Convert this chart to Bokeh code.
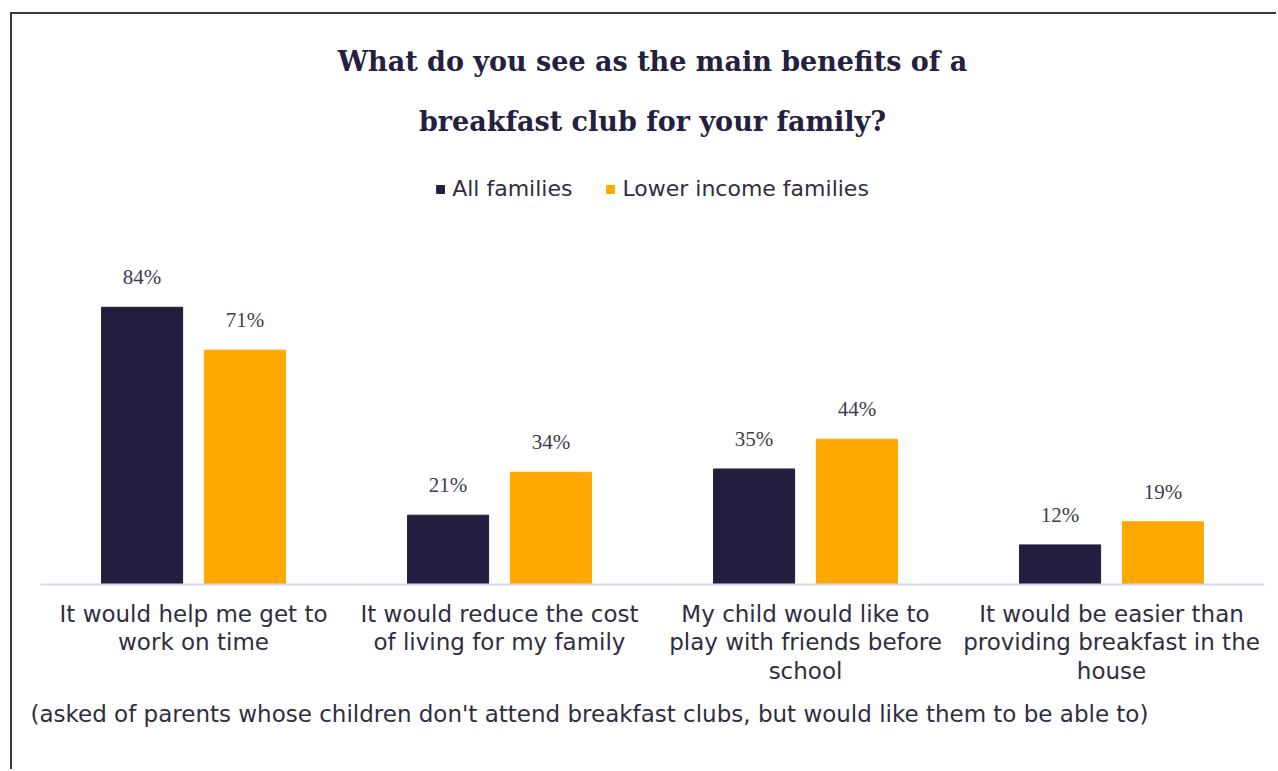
from bokeh.plotting import figure
from bokeh.models import (FactorRange, Range1d, ColumnDataSource, LabelSet, Legend,
                          LegendItem, Title)
from bokeh.transform import dodge
from bokeh.embed import file_html
from bokeh.resources import INLINE

categories = [
    "It would help me get to\nwork on time",
    "It would reduce the cost\nof living for my family",
    "My child would like to\nplay with friends before\nschool",
    "It would be easier than\nproviding breakfast in the\nhouse",
]
all_families = [84, 21, 35, 12]
lower_income = [71, 34, 44, 19]
series_names = ["All families", "Lower income families"]
title_lines = ["What do you see as the main benefits of a", "breakfast club for your family?"]
footnote = "(asked of parents whose children don't attend breakfast clubs, but would like them to be able to)"

NAVY = "#211e3e"
ORANGE = "#ffa800"
TEXT = "#2f2e41"
SANS = "DejaVu Sans"
SERIF = "DejaVu Serif"

src = ColumnDataSource(dict(
    cat=categories,
    allf=all_families,
    low=lower_income,
    allf_lbl=[f"{v}%" for v in all_families],
    low_lbl=[f"{v}%" for v in lower_income],
))

p = figure(width=1266, height=757,
           x_range=FactorRange(factors=categories, range_padding=0, factor_padding=0),
           y_range=Range1d(0, 131.5),
           output_backend="svg", toolbar_location=None,
           y_axis_location=None,
           min_border_left=28, min_border_right=14, min_border_top=136, min_border_bottom=187,
           styles={"margin-left": "10px", "margin-top": "12px",
                   "border-left": "2px solid #3a3a3a", "border-top": "2px solid #3a3a3a"})
p.title.visible = False
p.outline_line_color = None
p.background_fill_color = "white"
p.border_fill_color = "white"
p.xgrid.grid_line_color = None
p.ygrid.grid_line_color = None

off = 0.168
w = 0.265
r1 = p.vbar(x=dodge("cat", -off, range=p.x_range), top="allf", width=w, source=src,
            fill_color=NAVY, line_color=NAVY)
r2 = p.vbar(x=dodge("cat", off, range=p.x_range), top="low", width=w, source=src,
            fill_color=ORANGE, line_color=ORANGE)

for xo, col in [(-off, "allf"), (off, "low")]:
    p.add_layout(LabelSet(x=dodge("cat", xo, range=p.x_range), y=col, text=col + "_lbl",
                          source=src, text_align="center", text_baseline="alphabetic",
                          y_offset=23, text_font=SERIF, text_font_size="21px",
                          text_color="#3d3c52"))

ax = p.xaxis[0]
ax.axis_line_color = "#d9d6ee"
ax.axis_line_width = 2
ax.major_tick_line_color = None
ax.minor_tick_line_color = None
ax.major_label_text_font = SANS
ax.major_label_text_font_size = "23px"
ax.major_label_text_color = TEXT
ax.major_label_standoff = 10
ax.major_label_text_line_height = 1.1

legend = Legend(items=[LegendItem(label=series_names[0], renderers=[r1]),
                       LegendItem(label=series_names[1], renderers=[r2])],
                orientation="horizontal", location="top_center",
                glyph_width=10, glyph_height=10, label_text_font=SANS,
                label_text_font_size="22px", label_text_color=TEXT,
                border_line_color=None, background_fill_alpha=0,
                padding=0, margin=26, spacing=33, label_standoff=7)
p.add_layout(legend, "center")

p.add_layout(Title(text=title_lines[1], align="center", text_font=SERIF, text_font_style="bold",
                   text_font_size="27px", text_color="#23213f", standoff=27), "above")
p.add_layout(Title(text=title_lines[0], align="center", text_font=SERIF, text_font_style="bold",
                   text_font_size="27px", text_color="#23213f", standoff=27), "above")

p.add_layout(Title(text=footnote, align="left", text_font=SANS, text_font_style="normal",
                   text_font_size="23px", text_color=TEXT, standoff=24, offset=-10), "below")

open("out.html", "w").write(file_html(p, INLINE))
